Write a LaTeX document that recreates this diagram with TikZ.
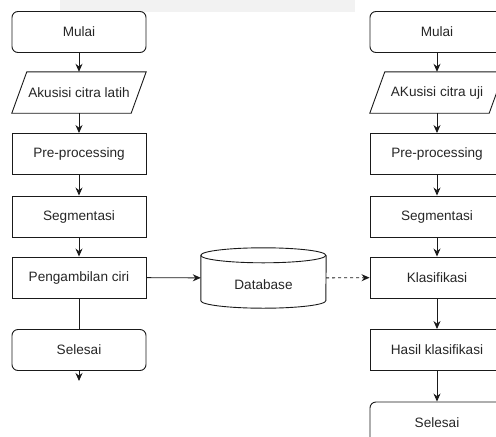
\documentclass[tikz,border=0pt]{standalone}
\usepackage{fontspec}
\setmainfont{Liberation Sans}
\usetikzlibrary{arrows.meta,calc}
\definecolor{txt}{HTML}{262626}
\definecolor{ln}{HTML}{1A1A1A}
\begin{document}
\begin{tikzpicture}[x=1pt,y=-1pt,
  every node/.style={font=\fontsize{13.6}{15}\selectfont, text=txt},
  procbox/.style={draw=ln, line width=0.9pt, minimum width=134pt, minimum height=41pt, inner sep=0pt},
  termbox/.style={procbox, rounded corners=6pt},
  iobox/.style={minimum width=134pt, minimum height=41pt, inner sep=0pt},
  flow/.style={draw=ln, line width=0.9pt, -{Stealth[length=8pt,width=7pt]}},
  plain/.style={draw=ln, line width=0.9pt}]
\clip (0,0) rectangle (496,437);
\fill[gray!10] (60,0) rectangle (355,12);
% left column
\node[termbox] (m1) at (79,32) {Mulai};
\node[iobox] (a1) at (79,92.5) {Akusisi citra latih};
\draw[plain] (a1.south west) -- ($(a1.north west)+(15,0)$) -- (a1.north east) -- ($(a1.south east)-(15,0)$) -- cycle;
\node[procbox] (p1) at (79,154) {Pre-processing};
\node[procbox] (s1) at (79,216.5) {Segmentasi};
\node[procbox] (c1) at (79,277.5) {Pengambilan ciri};
\node[termbox] (e1) at (79,350) {Selesai};
\coordinate (e1b) at (79,381);
\draw[flow] (m1) -- (a1);
\draw[flow] (a1) -- (p1);
\draw[flow] (p1) -- (s1);
\draw[flow] (s1) -- (c1);
\draw[plain] (c1) -- (e1);
\draw[flow] (e1) -- (e1b);
% database
\node[minimum width=125pt, minimum height=60pt, inner sep=0pt] (db) at (263.5,278) {};
\node at (263.5,285) {Database};
\draw[plain] (db.north west) ++(0,7.5) coordinate (tl)
  (tl) arc[start angle=180, end angle=-180, x radius=62.5, y radius=7.5];
\draw[plain] (tl) -- ($(db.south west)-(0,7.5)$)
  arc[start angle=180, end angle=360, x radius=62.5, y radius=-7.5]
  -- ($(db.north east)+(0,7.5)$);
% right column
\node[termbox] (m2) at (437,32) {Mulai};
\node[iobox] (a2) at (437,92.5) {AKusisi citra uji};
\draw[plain] (a2.south west) -- ($(a2.north west)+(15,0)$) -- (a2.north east) -- ($(a2.south east)-(15,0)$) -- cycle;
\node[procbox] (p2) at (437,154) {Pre-processing};
\node[procbox] (s2) at (437,216.5) {Segmentasi};
\node[procbox] (k2) at (437,277.5) {Klasifikasi};
\node[procbox] (h2) at (437,350) {Hasil klasifikasi};
\node[termbox] (e2) at (437,422.5) {Selesai};
\draw[flow] (m2) -- (a2);
\draw[flow] (a2) -- (p2);
\draw[flow] (p2) -- (s2);
\draw[flow] (s2) -- (k2);
\draw[flow] (k2) -- (h2);
\draw[flow] (h2) -- (e2);
% cross links
\draw[flow] (c1) -- (db);
\draw[flow, dashed] (db) -- (k2);
\end{tikzpicture}
\end{document}
